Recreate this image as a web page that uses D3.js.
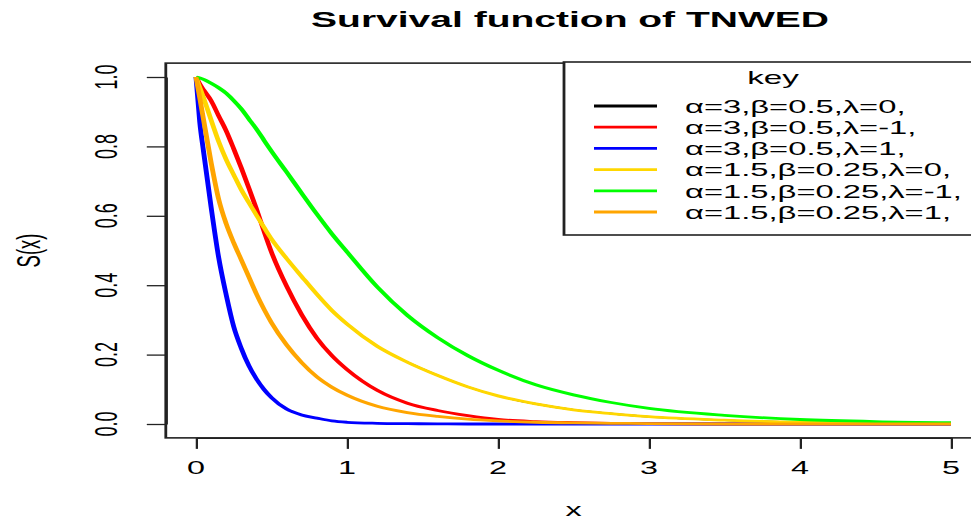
<!DOCTYPE html>
<html><head><meta charset="utf-8">
<script src="https://cdn.jsdelivr.net/npm/d3@7"></script>
<style>body{margin:0;background:#fff;} text{font-family:"Liberation Sans",Arial,sans-serif;fill:#000;}</style>
</head><body><svg id="c" width="971" height="522"></svg>
<script>
// ---- data ----
const xGrid  = [0, 0.025, 0.05, 0.1, 0.15, 0.2, 0.25, 0.3, 0.35, 0.4, 0.45, 0.5, 0.6, 0.7, 0.8, 0.9, 1.0, 1.2, 1.4, 1.6, 1.8, 2.0, 2.25, 2.5, 2.75, 3.0, 3.5, 4.0, 4.5, 5.0];
const sBlack = [1, 0.97, 0.94, 0.876, 0.814, 0.762, 0.718, 0.675, 0.638, 0.602, 0.567, 0.533, 0.477, 0.425, 0.374, 0.327, 0.288, 0.224, 0.178, 0.14, 0.107, 0.081, 0.058, 0.041, 0.03, 0.021, 0.011, 0.005, 0.002, 0.001];
const sRed   = [1, 0.98, 0.963, 0.932, 0.888, 0.845, 0.793, 0.738, 0.68, 0.62, 0.556, 0.495, 0.397, 0.315, 0.248, 0.197, 0.157, 0.097, 0.06, 0.039, 0.024, 0.013, 0.007, 0.004, 0.002, 0.001, 0, 0, 0, 0];
const sBlue  = [1, 0.87, 0.785, 0.625, 0.48, 0.372, 0.28, 0.218, 0.168, 0.13, 0.1, 0.076, 0.043, 0.026, 0.017, 0.009, 0.005, 0.002, 0.001, 0.0005, 0, 0, 0, 0, 0, 0, 0, 0, 0, 0];
const sGold  = [1, 0.97, 0.94, 0.876, 0.814, 0.762, 0.718, 0.675, 0.638, 0.602, 0.567, 0.533, 0.477, 0.425, 0.374, 0.327, 0.288, 0.224, 0.178, 0.14, 0.107, 0.081, 0.058, 0.041, 0.03, 0.021, 0.011, 0.005, 0.002, 0.001];
const sGreen = [1, 0.997, 0.993, 0.982, 0.969, 0.953, 0.932, 0.908, 0.879, 0.85, 0.818, 0.786, 0.726, 0.665, 0.605, 0.548, 0.496, 0.395, 0.313, 0.249, 0.197, 0.155, 0.113, 0.084, 0.062, 0.045, 0.025, 0.013, 0.007, 0.004];
const sOrange= [1, 0.94, 0.877, 0.754, 0.648, 0.577, 0.522, 0.473, 0.424, 0.375, 0.331, 0.292, 0.228, 0.177, 0.136, 0.106, 0.083, 0.051, 0.033, 0.022, 0.014, 0.009, 0.005, 0.003, 0.002, 0.001, 0, 0, 0, 0];
const seriesLabels = ["α=3,β=0.5,λ=0,", "α=3,β=0.5,λ=-1,", "α=3,β=0.5,λ=1,", "α=1.5,β=0.25,λ=0,", "α=1.5,β=0.25,λ=-1,", "α=1.5,β=0.25,λ=1,"];
const seriesValues = [sBlack, sRed, sBlue, sGold, sGreen, sOrange];
const seriesColors = ["#000000", "#ff0000", "#0000ff", "#ffd700", "#00ff00", "#ffa500"];
const xTicks = [0, 1, 2, 3, 4, 5];
const xTickLabels = ["0", "1", "2", "3", "4", "5"];
const yTicks = [0, 0.2, 0.4, 0.6, 0.8, 1.0];
const yTickLabels = ["0.0", "0.2", "0.4", "0.6", "0.8", "1.0"];
const titleText = "Survival function of TNWED";
const xLabel = "x", yLabel = "S(x)", legendTitle = "key";

// ---- drawing ----
const SX = 1.75; // horizontal stretch of the original picture
const svg = d3.select("#c");
svg.append("rect").attr("width", 971).attr("height", 522).attr("fill", "#fff");
const g = svg.append("g").attr("transform", `scale(${SX},1)`);
const x = d3.scaleLinear().domain([0, 5]).range([196 / SX, 951 / SX]);
const y = d3.scaleLinear().domain([0, 1]).range([424, 77]);
const axisCol = "#222";

// curves (the black one lies under the gold one)
const line = d3.line().x((d, i) => x(xGrid[i])).y(d => y(d)).curve(d3.curveMonotoneX);
seriesValues.forEach((vals, k) => {
  g.append("path").attr("d", line(vals)).attr("fill", "none")
    .attr("stroke", seriesColors[k]).attr("stroke-width", k === 0 ? 1.6 : 2.8)
    .attr("stroke-linejoin", "round");
});

// plot box
g.append("rect").attr("x", x(-0.2)).attr("y", y(1.04))
  .attr("width", x(5.2) - x(-0.2)).attr("height", y(-0.04) - y(1.04))
  .attr("fill", "none").attr("stroke", axisCol).attr("stroke-width", 1.6);

// x axis
const xa = g.append("g").attr("transform", `translate(0,${y(-0.04)})`)
  .call(d3.axisBottom(x).tickValues(xTicks).tickSize(11).tickSizeOuter(0).tickFormat(""));
xa.select(".domain").attr("stroke", axisCol).attr("stroke-width", 1.4);
xa.selectAll(".tick line").attr("stroke", axisCol).attr("stroke-width", 1.3);
xTicks.forEach((v, i) => {
  g.append("text").attr("x", x(v)).attr("y", 474).attr("text-anchor", "middle")
    .attr("font-size", 18.5).text(xTickLabels[i]);
});

// y axis
const ya = g.append("g").attr("transform", `translate(${x(-0.2)},0)`)
  .call(d3.axisLeft(y).tickValues(yTicks).tickSize(19 / SX).tickSizeOuter(0).tickFormat(""));
ya.select(".domain").attr("stroke", axisCol).attr("stroke-width", 1.4);
ya.selectAll(".tick line").attr("stroke", axisCol).attr("stroke-width", 1.3);
yTicks.forEach((v, i) => {
  g.append("text").attr("transform", `translate(${117 / SX},${y(v)}) rotate(-90)`)
    .attr("text-anchor", "middle").attr("font-size", 18).text(yTickLabels[i]);
});

// axis titles & main title
g.append("text").attr("x", x(2.5)).attr("y", 516).attr("text-anchor", "middle")
  .attr("font-size", 18.5).text(xLabel);
g.append("text").attr("transform", `translate(${40 / SX},${y(0.5)}) rotate(-90)`)
  .attr("text-anchor", "middle").attr("font-size", 18.5).text(yLabel);
g.append("text").attr("x", 570 / SX).attr("y", 27).attr("text-anchor", "middle")
  .attr("font-size", 22.3).attr("font-weight", "bold").text(titleText);

// legend
const lg = g.append("g");
lg.append("rect").attr("x", 564 / SX).attr("y", 62).attr("width", (981 - 564) / SX).attr("height", 173)
  .attr("fill", "#fff").attr("stroke", axisCol).attr("stroke-width", 1.6);
lg.append("text").attr("x", 773 / SX).attr("y", 84).attr("text-anchor", "middle")
  .attr("font-size", 19).text(legendTitle);
seriesLabels.forEach((lab, k) => {
  const yy = 106 + k * 21.2;
  lg.append("line").attr("x1", 594 / SX).attr("x2", 657 / SX).attr("y1", yy).attr("y2", yy)
    .attr("stroke", seriesColors[k]).attr("stroke-width", 2.8);
  lg.append("text").attr("x", 685 / SX).attr("y", yy).attr("dy", "0.36em")
    .attr("font-size", 18.7).text(lab);
});
</script></body></html>
